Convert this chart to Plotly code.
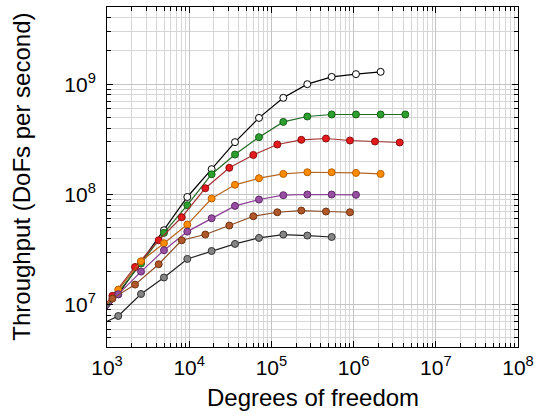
import plotly.graph_objects as go

# Degrees of freedom (two mesh families)
dofs_a = [724, 1371, 2594, 4932, 9484, 18750, 36060, 70630, 139600, 273500,
          540800, 1069000, 2133000, 4256000]
dofs_b = [603, 1164, 2193, 4256, 8110, 15700, 30760, 60260, 118000, 231200,
          461300, 903600, 1820000, 3639000]

# Throughput (DoFs per second)
white_y = [6.76e6, 1.242e7, 2.438e7, 4.73e7, 9.48e7, 1.694e8, 2.979e8, 4.943e8,
           7.516e8, 1.0e9, 1.164e9, 1.233e9, 1.294e9]
green_y = [7.08e6, 1.288e7, 2.36e7, 4.48e7, 7.98e7, 1.524e8, 2.301e8, 3.304e8,
           4.55e8, 5.09e8, 5.31e8, 5.31e8, 5.31e8, 5.31e8]
red_y = [6.6e6, 1.202e7, 2.198e7, 3.837e7, 6.21e7, 1.138e8, 1.742e8, 2.28e8,
         2.838e8, 3.126e8, 3.214e8, 3.083e8, 3.02e8, 2.958e8]
orange_y = [7.41e6, 1.371e7, 2.477e7, 3.606e7, 5.33e7, 9.18e7, 1.222e8, 1.403e8,
            1.535e8, 1.589e8, 1.589e8, 1.567e8, 1.535e8]
purple_y = [6.92e6, 1.242e7, 1.995e7, 3.119e7, 4.60e7, 6.08e7, 7.87e7, 8.99e7,
            9.84e7, 9.98e7, 9.98e7, 9.91e7]
brown_y = [6.76e6, 1.135e7, 1.521e7, 2.328e7, 3.837e7, 4.325e7, 5.22e7, 6.34e7,
           6.89e7, 7.14e7, 7.00e7, 6.89e7]
gray_y = [6.31e6, 7.89e6, 1.25e7, 1.762e7, 2.60e7, 3.069e7, 3.556e7, 4.03e7,
          4.325e7, 4.236e7, 4.11e7]

x_ticks = [1e3, 1e4, 1e5, 1e6, 1e7, 1e8]
x_tick_text = ["10<sup>3</sup>", "10<sup>4</sup>", "10<sup>5</sup>",
               "10<sup>6</sup>", "10<sup>7</sup>", "10<sup>8</sup>"]
y_ticks = [1e7, 1e8, 1e9]
y_tick_text = ["10<sup>7</sup>", "10<sup>8</sup>", "10<sup>9</sup>"]

series = [
    (dofs_a, white_y, "#ffffff", "#000000", "#000000"),
    (dofs_a, green_y, "#2ca02c", "#1a5e1a", "#246b24"),
    (dofs_b, red_y, "#e41a1c", "#8b0f10", "#a33333"),
    (dofs_a, orange_y, "#ff8c00", "#b85f00", "#b5651d"),
    (dofs_a, purple_y, "#984ea3", "#5e2a66", "#8a3f94"),
    (dofs_b, brown_y, "#b0582a", "#6e3411", "#8b4a24"),
    (dofs_a, gray_y, "#858585", "#333333", "#222222"),
]

fig = go.Figure()
for xs, ys, fill, edge, line in series:
    fig.add_trace(go.Scatter(
        x=xs[:len(ys)], y=ys, mode="lines+markers",
        line=dict(color=line, width=1.2),
        marker=dict(size=7, color=fill, line=dict(color=edge, width=1)),
        showlegend=False, hoverinfo="skip",
    ))

def minor_vals(lo, hi):
    vals = []
    for e in range(lo, hi):
        for m in range(2, 10):
            vals.append(m * 10 ** e)
    return vals

font = "Liberation Sans"
axis_common = dict(
    type="log", showline=True, linecolor="black", linewidth=1, mirror="allticks",
    ticks="inside", ticklen=6, tickcolor="black", tickwidth=1,
    showgrid=True, gridcolor="#c4c4c4", gridwidth=1, zeroline=False,
    tickfont=dict(family=font, size=21, color="black"),
)

fig.update_xaxes(
    **axis_common, range=[3, 8], tickmode="array", tickvals=x_ticks,
    ticktext=x_tick_text, ticklabelstandoff=2,
    minor=dict(tickmode="array", tickvals=minor_vals(3, 8), ticks="inside",
               ticklen=4, tickcolor="black", showgrid=True, gridcolor="#d6d6d6",
               gridwidth=1),
)
fig.update_yaxes(
    **axis_common, range=[6.616, 9.70], tickmode="array", tickvals=y_ticks,
    ticktext=y_tick_text, ticklabelstandoff=6,
    minor=dict(tickmode="array", tickvals=minor_vals(6, 10), ticks="inside",
               ticklen=4, tickcolor="black", showgrid=True, gridcolor="#d6d6d6",
               gridwidth=1),
)

fig.update_layout(
    width=537, height=414,
    margin=dict(l=107, r=19, t=7, b=67, autoexpand=False),
    plot_bgcolor="white", paper_bgcolor="white",
    font=dict(family=font, color="black"),
    annotations=[
        dict(text="Degrees of freedom", xref="paper", yref="paper", x=0.5, y=-0.15,
             xanchor="center", yanchor="middle", showarrow=False,
             font=dict(family=font, size=24, color="black")),
        dict(text="Throughput (DoFs per second)", xref="paper", yref="paper",
             x=-0.21, y=0.5, xanchor="center", yanchor="middle", textangle=-90,
             showarrow=False, font=dict(family=font, size=24, color="black")),
    ],
)

# remove the page's default body margin so the figure sits at the window origin
fig.write_html("out.html",
               config={"displayModeBar": False, "staticPlot": True},
               post_script="document.body.style.margin='0';"
                           "document.body.style.overflow='hidden';")
